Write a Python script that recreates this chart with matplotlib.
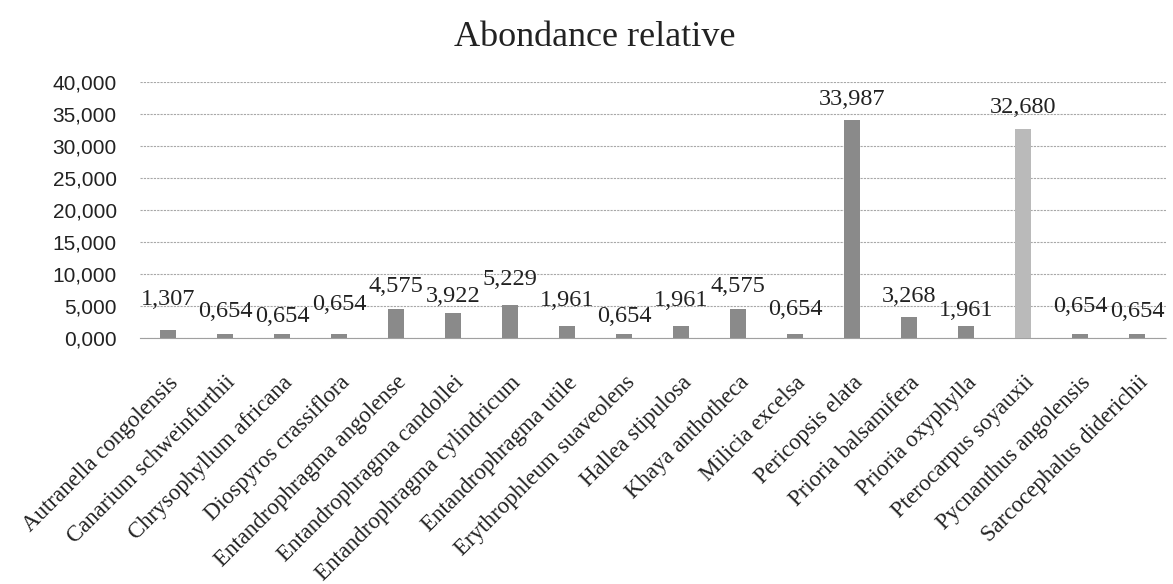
import matplotlib.pyplot as plt
import matplotlib.transforms as mtransforms
from matplotlib.ticker import FuncFormatter, MultipleLocator

species = [
    "Autranella congolensis", "Canarium schweinfurthii", "Chrysophyllum africana",
    "Diospyros crassiflora", "Entandrophragma angolense", "Entandrophragma candollei",
    "Entandrophragma cylindricum", "Entandrophragma utile", "Erythrophleum suaveolens",
    "Hallea stipulosa", "Khaya anthotheca", "Milicia excelsa", "Pericopsis elata",
    "Prioria balsamifera", "Prioria oxyphylla", "Pterocarpus soyauxii",
    "Pycnanthus angolensis", "Sarcocephalus diderichii",
]
abondance = [1.307, 0.654, 0.654, 0.654, 4.575, 3.922, 5.229, 1.961, 0.654,
             1.961, 4.575, 0.654, 33.987, 3.268, 1.961, 32.680, 0.654, 0.654]

# gap (px) between bar top and label baseline, labels are staggered
label_gap = [25, 17, 12, 24, 17, 11, 20, 20, 12, 20, 17, 19, 15, 15, 10, 16, 22, 17]


def virgule(v, pos=None):
    # decimal comma, three decimals
    return f"{v:.3f}".replace('.', ',')


fig = plt.figure(figsize=(11.73, 5.84), dpi=100)
ax = fig.add_axes([0.119, 0.421, 0.875, 0.439])

x = range(len(species))
colors = ['#8a8a8a'] * len(species)
colors[15] = '#bababa'
bars = ax.bar(x, abondance, width=0.28, color=colors, zorder=3)

for i, v in enumerate(abondance):
    ax.annotate(virgule(v), (i, v), xytext=(0, label_gap[i] * 0.72),
                textcoords='offset points', ha='center', va='baseline',
                family='Liberation Serif', fontsize=17.5, color='#222222')

ax.set_ylim(0, 40)
ax.set_xlim(-0.5, len(species) - 0.5)
ax.yaxis.set_major_locator(MultipleLocator(5))
ax.yaxis.set_major_formatter(FuncFormatter(virgule))
ax.grid(axis='y', color='#a8a8a8', linestyle=(0, (2, 1)), linewidth=0.8, zorder=0)

for s in ['top', 'right', 'left']:
    ax.spines[s].set_visible(False)
ax.spines['bottom'].set_color('#a0a0a0')
ax.spines['bottom'].set_linestyle((0, (2, 1)))

ax.tick_params(axis='both', length=0)
ax.tick_params(axis='y', pad=16.5)
for lab in ax.get_yticklabels():
    lab.set_family('Liberation Sans')
    lab.set_fontsize(15)
    lab.set_color('#222222')

ax.set_xticks(list(x))
ax.set_xticklabels(species, rotation=45, ha='right', rotation_mode='anchor',
                   family='Liberation Serif', fontsize=16.5, color='#222222')
ax.tick_params(axis='x', pad=10)
shift = mtransforms.ScaledTranslation(0.0, -0.2, fig.dpi_scale_trans)
for lab in ax.get_xticklabels():
    lab.set_transform(lab.get_transform() + shift)

fig.text(0.507, 0.936, "Abondance relative", ha='center', va='center',
         family='Liberation Serif', fontsize=26, color='#222222')

fig.savefig('out.png', dpi=100)
